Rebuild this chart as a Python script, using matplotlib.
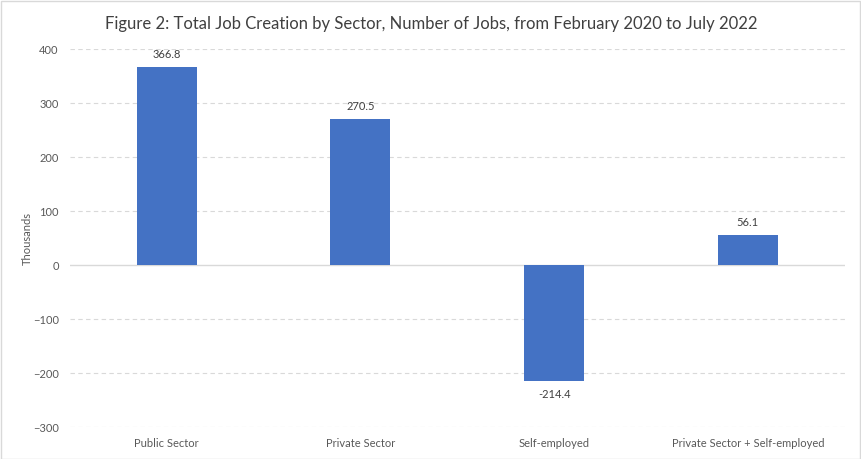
import matplotlib
matplotlib.use("Agg")
import matplotlib.pyplot as plt
from matplotlib.patches import Rectangle

# --- data ---
sectors = ["Public Sector", "Private Sector", "Self-employed", "Private Sector + Self-employed"]
jobs_thousands = [366.8, 270.5, -214.4, 56.1]
y_ticks = [-300, -200, -100, 0, 100, 200, 300, 400]

plt.rcParams['font.family'] = ['Lato', 'DejaVu Sans']
txt = '#595959'

fig = plt.figure(figsize=(8.62, 4.59), dpi=100)
ax = fig.add_axes([0.081, 0.0697, 0.899, 0.8233])

x = list(range(len(sectors)))
ax.bar(x, jobs_thousands, width=0.31, color='#4472C4', zorder=3)

for xi, v in zip(x, jobs_thousands):
    if v >= 0:
        ax.annotate(f"{v:.1f}", (xi, v), xytext=(0, 5), textcoords='offset points',
                    ha='center', va='bottom', fontsize=8, color='#404040')
    else:
        ax.annotate(f"{v:.1f}", (xi, v), xytext=(0, -6), textcoords='offset points',
                    ha='center', va='top', fontsize=8, color='#404040')

ax.set_xlim(-0.5, len(sectors) - 0.5)
ax.set_ylim(-300, 400)
ax.set_yticks(y_ticks)
ax.set_xticks(x)
ax.set_xticklabels(sectors)
ax.tick_params(axis='both', length=0, labelsize=8, labelcolor=txt)
ax.tick_params(axis='y', pad=8)
ax.tick_params(axis='x', pad=8)

for t in y_ticks:
    if t == 0:
        ax.axhline(0, color='#D9D9D9', lw=1, zorder=2)
    else:
        ax.axhline(t, color='#D9D9D9', lw=0.8, ls=(0, (4, 3)), zorder=1)

for s in ax.spines.values():
    s.set_visible(False)

ax.set_ylabel("Thousands", fontsize=8, color=txt, labelpad=0)
fig.suptitle("Figure 2: Total Job Creation by Sector, Number of Jobs, from February 2020 to July 2022",
             y=0.965, fontsize=12, color='#404040')

fig.patches.append(Rectangle((0.001, 0.001), 0.997, 0.997, transform=fig.transFigure,
                             fill=False, edgecolor='#D9D9D9', lw=1))

fig.savefig("out.png", dpi=100)
